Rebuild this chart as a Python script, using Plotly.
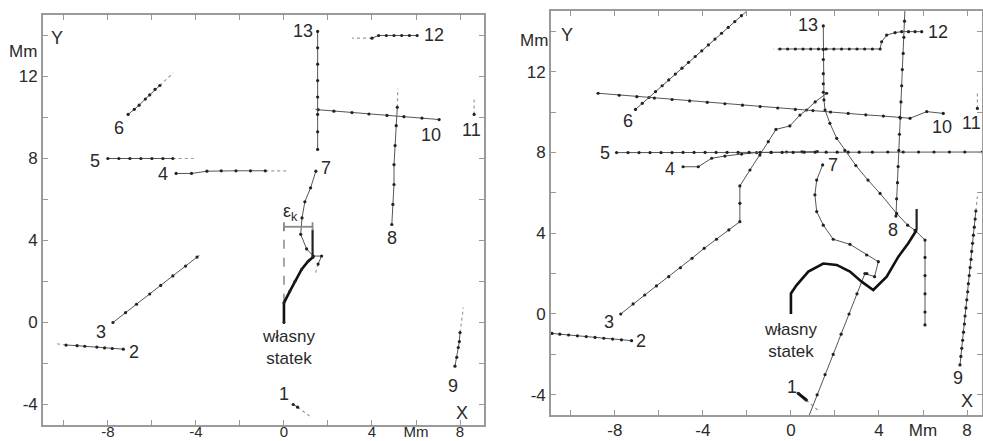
import plotly.graph_objects as go

# ---------------- LEFT PANEL DATA (solid part with dots, dotted extension) -------------
L1 = ([0.42, 0.62], [-4.0, -4.13]);  L1_ext = ([0.62, 1.27], [-4.13, -4.65])
L2 = ([-7.3, -7.8, -8.15, -8.5, -9.05, -9.4, -9.9], [-1.30, -1.27, -1.24, -1.2, -1.16, -1.13, -1.1])
L2_ext = ([-9.9, -10.4], [-1.1, -1.03])
L3 = ([-7.77, -7.2, -6.7, -6.1, -5.6, -5.05, -4.47, -3.95], [0.0, 0.48, 0.89, 1.39, 1.81, 2.27, 2.75, 3.19])
L3_ext = ([-3.95, -3.73], [3.19, 3.37])
L4 = ([-4.9, -4.2, -3.5, -2.85, -2.18, -1.52, -0.85], [7.27, 7.27, 7.38, 7.4, 7.4, 7.4, 7.4])
L4_ext = ([-0.85, 0.1], [7.4, 7.4])
L5 = ([-8.0, -7.5, -7.0, -6.5, -6.0, -5.5, -5.05], [8.0, 8.0, 8.0, 8.0, 8.0, 8.0, 8.0])
L5_ext = ([-5.05, -4.1], [8.0, 8.0])
L6 = ([-7.08, -6.8, -6.58, -6.3, -6.1, -5.86, -5.64], [10.15, 10.4, 10.6, 10.9, 11.1, 11.37, 11.56])
L6_ext = ([-5.64, -5.03], [11.56, 12.18])
L7 = ([1.45, 1.21, 0.95, 0.82, 0.76, 1.03, 1.33, 1.71, 1.55], [7.38, 6.57, 5.89, 5.1, 4.3, 3.59, 3.24, 3.24, 2.85])
L7_ext = ([1.55, 1.41], [2.85, 2.34])
L8 = ([4.9, 4.95, 5.0, 5.0, 5.05, 5.1, 5.15], [4.78, 5.76, 6.73, 7.7, 8.63, 9.6, 10.5])
L8_ext = ([5.15, 5.17], [10.5, 11.4])
L9 = ([7.77, 7.85, 7.92, 7.97, 8.0], [-2.13, -1.7, -1.22, -0.93, -0.49])
L9_ext = ([8.0, 8.15], [-0.49, 0.73])
L10 = ([7.05, 6.27, 5.45, 4.68, 3.86, 3.09, 2.27, 1.55], [9.9, 9.97, 10.04, 10.1, 10.17, 10.24, 10.31, 10.38])
L10_ext = ([1.55, 1.3], [10.38, 10.42])
L11 = ([8.64], [10.15]);  L11_ext = ([8.64, 8.64], [10.15, 11.0])
L12 = ([6.05, 5.7, 5.35, 5.0, 4.65, 4.3, 4.0], [14.0, 14.0, 14.0, 14.0, 14.0, 14.0, 13.87])
L12_ext = ([4.0, 3.1], [13.87, 13.87])
L13 = ([1.53, 1.53, 1.53, 1.53, 1.53, 1.53, 1.53, 1.53], [14.2, 13.4, 12.6, 11.8, 11.0, 10.15, 9.3, 8.44])
L_own = ([0.0, 0.0, 0.27, 0.5, 0.8, 1.1, 1.33], [0.0, 0.96, 1.53, 2.01, 2.59, 2.99, 3.2])
L_own_head = ([1.3, 1.3], [3.2, 4.5])
L_eps = ([0.0, 1.3], [4.67, 4.67])
L_dash = ([0.0, 0.0], [0.96, 4.67])

# ---------------- RIGHT PANEL DATA ----------------
R1 = ([0.33, 0.7], [-3.93, -4.26]);  R1_ext = ([0.7, 1.3], [-4.26, -4.84])
R2 = ([-7.24, -7.7, -8.1, -8.5, -8.9, -9.3, -9.7, -10.1, -10.5, -10.85],
      [-1.32, -1.28, -1.24, -1.2, -1.16, -1.12, -1.08, -1.04, -1.0, -0.96])
R3 = ([-7.73, -7.17, -6.64, -6.11, -5.55, -5.02, -4.49, -3.94, -3.38, -2.82, -2.32, -2.32, -2.32,
       -1.86, -1.41, -1.03, -0.68, -0.05, 0.41, 0.71, 1.1, 1.62],
      [0.0, 0.5, 0.94, 1.39, 1.85, 2.29, 2.76, 3.25, 3.7, 4.16, 4.57, 5.48, 6.34,
       7.13, 7.87, 8.53, 9.14, 9.31, 9.85, 10.1, 10.5, 10.93])
R4 = ([-4.9, -4.21, -3.6, -3.0, -2.24, -1.56, -0.9, -0.2, 0.5, 1.2],
      [7.29, 7.29, 7.71, 7.82, 7.92, 7.99, 8.0, 8.02, 8.03, 8.04])
R5 = ([-7.92, -7.4, -6.9, -6.4, -5.9, -5.4, -4.9, -4.4, -3.9, -3.4, -2.9, -2.4, -1.9, -1.4, -0.9, -0.4,
       0.1, 0.6, 1.1, 1.6, 2.1, 2.6, 3.1, 3.7, 4.4, 5.1, 5.8, 6.5, 7.2, 7.9, 8.7],
      [7.99, 7.99, 7.99, 7.99, 7.99, 7.99, 8.0, 8.0, 8.0, 8.0, 8.0, 8.0, 8.0, 8.0, 8.0, 8.0,
       8.0, 8.01, 8.01, 8.01, 8.01, 8.01, 8.01, 8.01, 8.02, 8.02, 8.02, 8.02, 8.02, 8.02, 8.02])
R6 = ([-7.06, -6.75, -6.45, -6.15, -5.85, -5.55, -5.25, -4.95, -4.65, -4.35, -4.05, -3.75, -3.45,
       -3.15, -2.85, -2.55, -2.25, -1.9],
      [10.13, 10.43, 10.72, 11.01, 11.3, 11.59, 11.88, 12.17, 12.46, 12.75, 13.03, 13.32, 13.61,
       13.9, 14.19, 14.48, 14.77, 15.1])
R7 = ([1.44, 1.17, 1.09, 1.17, 1.47, 1.92, 2.68, 3.44, 3.97, 3.8, 3.45, 3.36, 3.0, 2.64, 2.28, 1.92,
       1.55, 1.19, 0.8],
      [7.38, 6.63, 5.9, 5.07, 4.4, 3.7, 3.45, 2.92, 2.59, 1.85, 2.0, 2.0, 1.0, 0.0, -1.0, -2.0,
       -3.0, -4.0, -5.1])
R8 = ([4.77, 4.8, 4.84, 4.87, 4.9, 4.93, 4.97, 5.0, 5.03, 5.06, 5.1, 5.13, 5.16, 5.18],
      [4.85, 5.7, 6.5, 7.3, 8.1, 8.9, 9.7, 10.5, 11.3, 12.1, 12.9, 13.7, 14.5, 15.1])
R9 = ([7.68, 7.72, 7.76, 7.8, 7.84, 7.88, 7.91, 7.95, 7.99, 8.03, 8.06, 8.1, 8.14, 8.18, 8.21, 8.25,
       8.29, 8.33, 8.37, 8.4],
      [-2.52, -2.1, -1.7, -1.3, -0.9, -0.5, -0.1, 0.3, 0.7, 1.1, 1.5, 1.9, 2.3, 2.7, 3.1, 3.5,
       3.9, 4.3, 4.7, 5.1])
R9_ext = ([8.4, 8.47], [5.1, 5.81])
R10 = ([6.92, 6.17, 5.41, 4.95, 4.2, 3.4, 2.6, 1.8, 1.0, 0.2, -0.6, -1.4, -2.2, -3.0, -3.8, -4.6,
        -5.4, -6.2, -7.0, -7.8, -8.76],
       [9.93, 10.02, 9.69, 9.74, 9.8, 9.86, 9.93, 10.0, 10.07, 10.13, 10.2, 10.27, 10.34, 10.41,
        10.48, 10.55, 10.62, 10.69, 10.76, 10.83, 10.93])
R11 = ([8.47], [10.18]);  R11_ext = ([8.47, 8.47], [10.18, 11.05])
R12 = ([5.94, 5.64, 5.34, 5.03, 4.73, 4.35, 4.12, 4.05, 3.7, 3.35, 3.0, 2.65, 2.3, 1.95, 1.6, 1.25,
        0.9, 0.55, 0.2, -0.15, -0.5],
       [13.98, 13.98, 13.98, 13.98, 13.93, 13.81, 13.48, 13.12, 13.12, 13.12, 13.12, 13.12, 13.12,
        13.12, 13.12, 13.12, 13.12, 13.12, 13.12, 13.12, 13.12])
R12_ext = ([-0.5, -0.8], [13.12, 13.12])
R13 = ([1.47, 1.47, 1.47, 1.47, 1.47, 1.47, 1.5, 1.55, 1.77, 2.08, 2.45, 2.95, 3.5, 4.05, 4.8, 5.3,
        5.64, 6.09, 6.09, 6.09, 6.09, 6.09, 6.09],
       [14.26, 13.1, 12.6, 11.9, 11.4, 10.98, 10.6, 10.1, 9.44, 8.7, 8.1, 7.35, 6.63, 5.97, 4.98,
        4.4, 4.14, 3.66, 2.8, 1.9, 1.0, 0.1, -0.54])
R_own = ([0.0, 0.0, 0.26, 0.79, 1.47, 2.08, 2.68, 3.21, 3.74, 4.35, 4.88, 5.33, 5.71],
         [0.0, 1.02, 1.43, 2.1, 2.5, 2.43, 2.1, 1.6, 1.19, 1.85, 2.84, 3.5, 4.16])
R_own_head = ([5.71, 5.71], [4.16, 5.2])

# labels: (text, x, y)
L_labels = [("13", 0.86, 14.2), ("12", 6.8, 14.0), ("6", -7.5, 9.5), ("5", -8.6, 7.9),
            ("4", -5.5, 7.25), ("7", 1.9, 7.55), ("10", 6.7, 9.15), ("11", 8.5, 9.4),
            ("8", 4.9, 4.1), ("3", -8.3, -0.47), ("2", -6.8, -1.43), ("1", 0.0, -3.5),
            ("9", 7.7, -3.1), ("X", 8.1, -4.4), ("Y", -10.3, 13.9),
            ("własny<br>statek", 0.2, -1.2), ("ε<sub>k</sub>", 0.3, 5.35)]
R_labels = [("13", 0.79, 14.3), ("12", 6.66, 13.98), ("6", -7.42, 9.57), ("5", -8.45, 7.95),
            ("4", -5.5, 7.2), ("7", 1.92, 7.38), ("10", 6.85, 9.27), ("11", 8.2, 9.44),
            ("8", 4.65, 4.16), ("3", -8.26, -0.38), ("2", -6.79, -1.36), ("1", 0.03, -3.6),
            ("9", 7.6, -3.17), ("X", 7.98, -4.33), ("Y", -10.17, 13.82),
            ("własny<br>statek", -0.04, -1.3)]

X_TICKS = [-8, -4, 0, 4, 6, 8]
X_TEXT = ["-8", "-4", "0", "4", "Mm", "8"]
Y_TICKS = [-4, 0, 4, 8, 12]
Y_TEXT = ["-4", "0", "4", "8", "12"]

LINE_C = "#555555"
EXT_C = "#9a9a9a"
TXT_C = "#2a2a2a"
FONT = "Liberation Sans, Arial, sans-serif"

fig = go.Figure()


def track(d, xa, ya, ext=None, width=1.0, color=LINE_C, msize=3.2):
    if ext is not None:
        fig.add_trace(go.Scatter(x=ext[0], y=ext[1], mode="lines", xaxis=xa, yaxis=ya,
                                 line=dict(color=EXT_C, width=1.2, dash="dot"), hoverinfo="skip"))
    fig.add_trace(go.Scatter(x=d[0], y=d[1], mode="lines+markers", xaxis=xa, yaxis=ya,
                             line=dict(color=color, width=width),
                             marker=dict(size=msize, color="#222222"), hoverinfo="skip"))


for d, e in [(L1, L1_ext), (L2, L2_ext), (L3, L3_ext), (L4, L4_ext), (L5, L5_ext), (L6, L6_ext),
             (L7, L7_ext), (L8, L8_ext), (L9, L9_ext), (L10, L10_ext), (L11, L11_ext),
             (L12, L12_ext), (L13, None)]:
    track(d, "x", "y", e)
# epsilon marker
fig.add_trace(go.Scatter(x=L_dash[0], y=L_dash[1], mode="lines", xaxis="x", yaxis="y",
                         line=dict(color="#888888", width=1.5, dash="dash"), hoverinfo="skip"))
fig.add_trace(go.Scatter(x=L_eps[0], y=L_eps[1], mode="lines", xaxis="x", yaxis="y",
                         line=dict(color="#888888", width=1.8), hoverinfo="skip",
                         error_y=dict(type="constant", value=0.22, color="#888888",
                                      thickness=1.8, width=0)))
track(L_own, "x", "y", width=2.6, color="#111111", msize=3)
track(L_own_head, "x", "y", width=2.2, color="#222222", msize=0.1)

track(R1, "x2", "y2", R1_ext, width=3.0, color="#111111")
for d, e in [(R2, None), (R3, None), (R4, None), (R5, None), (R6, None),
             (R7, None), (R8, None), (R9, R9_ext), (R10, None), (R11, R11_ext),
             (R12, R12_ext), (R13, None)]:
    track(d, "x2", "y2", e)
track(R_own, "x2", "y2", width=2.6, color="#111111", msize=0.1)
track(R_own_head, "x2", "y2", width=2.2, color="#222222", msize=0.1)

ann = []
for t, x, y in L_labels:
    ann.append(dict(text=t, x=x, y=y, xref="x", yref="y", showarrow=False,
                    font=dict(size=18 if "<br>" not in t else 17, color=TXT_C, family=FONT)))
for t, x, y in R_labels:
    ann.append(dict(text=t, x=x, y=y, xref="x2", yref="y2", showarrow=False,
                    font=dict(size=18 if "<br>" not in t else 17, color=TXT_C, family=FONT)))
ann.append(dict(text="Mm", x=0.0397, y=13.2, xref="paper", yref="y", xanchor="right",
                showarrow=False, font=dict(size=17, color=TXT_C, family=FONT)))
ann.append(dict(text="Mm", x=0.5595, y=13.55, xref="paper", yref="y2", xanchor="right",
                showarrow=False, font=dict(size=17, color=TXT_C, family=FONT)))


def ax(domain, rng, ticks, text, anchor, standoff, fsize=17):
    return dict(domain=domain, range=rng, tickmode="array", tickvals=ticks, ticktext=text,
                ticks="inside", ticklen=5, tickcolor="#999999", tickwidth=1.2,
                minor=dict(ticks="inside", dtick=2, tick0=0, ticklen=5, tickcolor="#999999",
                           tickwidth=1.2, showgrid=False),
                showline=True, linecolor="#9a9a9a", linewidth=1.6, mirror="ticks",
                showgrid=False, zeroline=False, anchor=anchor, ticklabelstandoff=standoff,
                automargin=False,
                tickfont=dict(size=fsize, color=TXT_C, family=FONT))


fig.update_layout(
    width=983, height=441, margin=dict(l=0, r=0, t=0, b=0),
    plot_bgcolor="white", paper_bgcolor="white", showlegend=False,
    xaxis=ax([0.0437, 0.4924], [-10.95, 9.09], X_TICKS, X_TEXT, "y", -8, 15),
    yaxis=ax([0.0363, 0.966], [-5, 15], Y_TICKS, Y_TEXT, "x", 0),
    xaxis2=ax([0.5605, 0.999], [-10.9, 8.68], X_TICKS, X_TEXT, "y2", -1),
    yaxis2=ax([0.059, 0.975], [-5, 15], Y_TICKS, Y_TEXT, "x2", 0),
    annotations=ann,
)

fig.write_html("out.html")
